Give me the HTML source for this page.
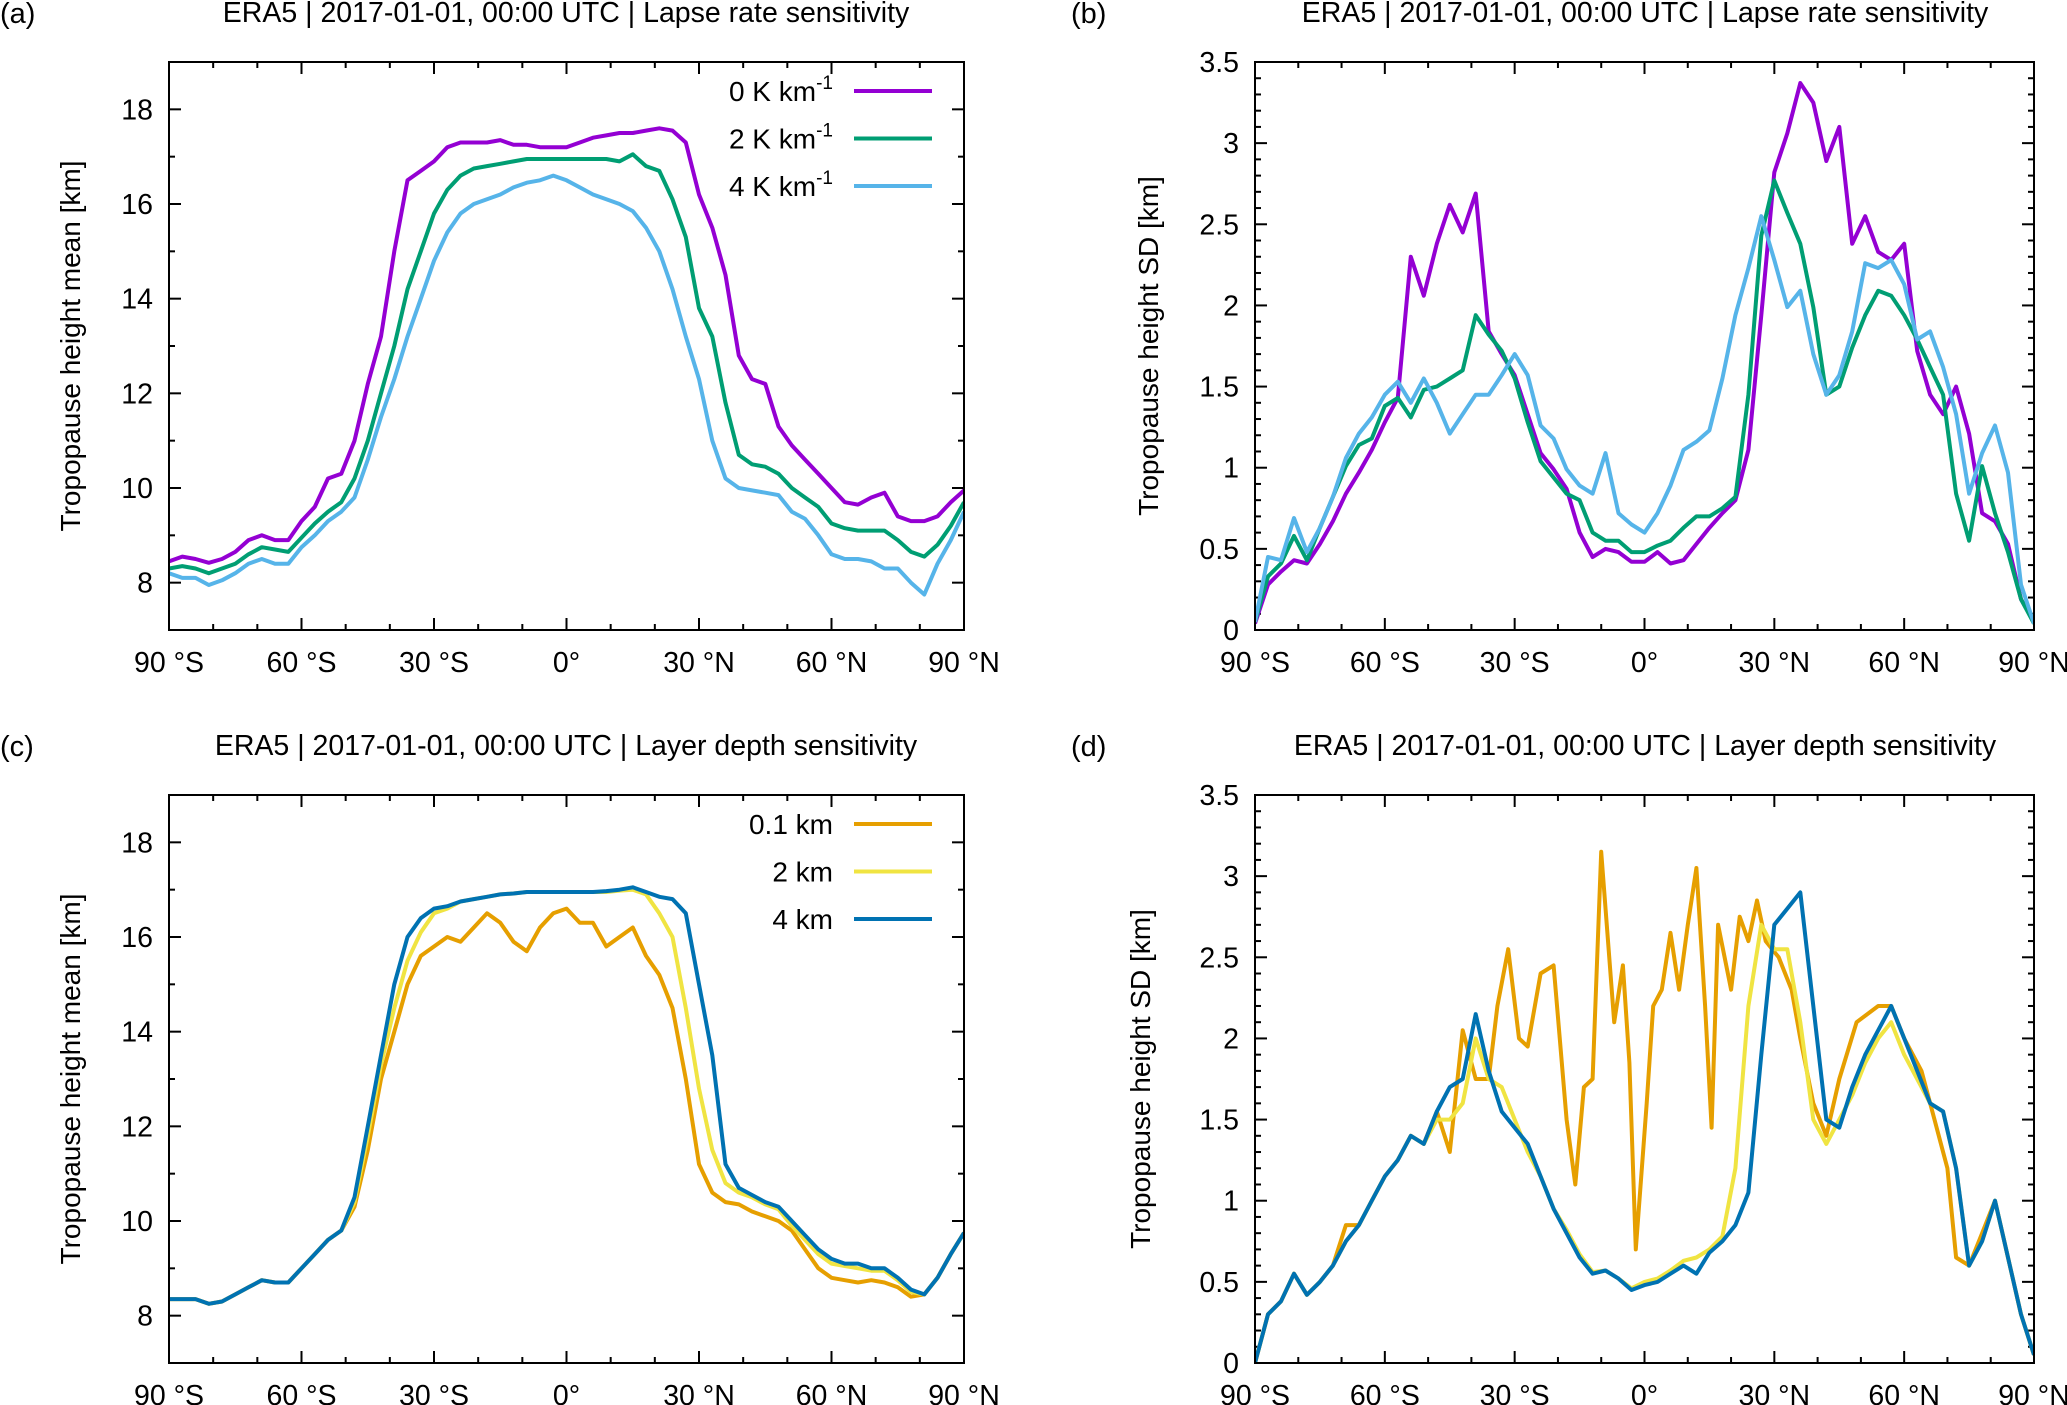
<!DOCTYPE html>
<html><head><meta charset="utf-8"><style>
body{margin:0;background:#fff}
svg{display:block;font-family:"Liberation Sans",sans-serif}
</style></head><body>
<svg id="fig" width="2067" height="1405" viewBox="0 0 2067 1405"></svg>
<script>
const latStep3 = [-90,-87,-84,-81,-78,-75,-72,-69,-66,-63,-60,-57,-54,-51,-48,-45,-42,-39,-36,-33,-30,-27,-24,-21,-18,-15,-12,-9,-6,-3,0,3,6,9,12,15,18,21,24,27,30,33,36,39,42,45,48,51,54,57,60,63,66,69,72,75,78,81,84,87,90];
// Panel (a) mean, lapse rate
const aMean0K = [8.45,8.55,8.5,8.42,8.5,8.65,8.9,9.0,8.9,8.9,9.3,9.6,10.2,10.3,11.0,12.2,13.2,15.0,16.5,16.7,16.9,17.2,17.3,17.3,17.3,17.35,17.25,17.25,17.2,17.2,17.2,17.3,17.4,17.45,17.5,17.5,17.55,17.6,17.55,17.3,16.2,15.5,14.5,12.8,12.3,12.2,11.3,10.9,10.6,10.3,10.0,9.7,9.65,9.8,9.9,9.4,9.3,9.3,9.4,9.7,9.95];
const aMean2K = [8.3,8.35,8.3,8.2,8.3,8.4,8.6,8.75,8.7,8.65,8.95,9.25,9.5,9.7,10.2,11.0,12.0,13.0,14.2,15.0,15.8,16.3,16.6,16.75,16.8,16.85,16.9,16.95,16.95,16.95,16.95,16.95,16.95,16.95,16.9,17.05,16.8,16.7,16.1,15.3,13.8,13.2,11.8,10.7,10.5,10.45,10.3,10.0,9.8,9.6,9.25,9.15,9.1,9.1,9.1,8.9,8.65,8.55,8.8,9.2,9.7];
const aMean4K = [8.2,8.1,8.1,7.95,8.05,8.2,8.4,8.5,8.4,8.4,8.75,9.0,9.3,9.5,9.8,10.6,11.5,12.3,13.2,14.0,14.8,15.4,15.8,16.0,16.1,16.2,16.35,16.45,16.5,16.6,16.5,16.35,16.2,16.1,16.0,15.85,15.5,15.0,14.2,13.2,12.3,11.0,10.2,10.0,9.95,9.9,9.85,9.5,9.35,9.0,8.6,8.5,8.5,8.45,8.3,8.3,8.0,7.75,8.4,8.9,9.5];
// Panel (b) SD, lapse rate
const bSd0K = [0.04,0.28,0.36,0.43,0.41,0.53,0.67,0.84,0.97,1.11,1.28,1.43,2.3,2.06,2.38,2.62,2.45,2.69,1.84,1.7,1.57,1.33,1.09,0.99,0.87,0.6,0.45,0.5,0.48,0.42,0.42,0.48,0.41,0.43,0.53,0.63,0.72,0.8,1.11,1.94,2.82,3.06,3.37,3.25,2.89,3.1,2.38,2.55,2.33,2.28,2.38,1.72,1.45,1.33,1.5,1.21,0.72,0.67,0.53,0.19,0.05];
const bSd2K = [0.05,0.33,0.41,0.58,0.43,0.63,0.82,1.01,1.14,1.18,1.38,1.43,1.31,1.48,1.5,1.55,1.6,1.94,1.82,1.72,1.55,1.28,1.04,0.94,0.84,0.8,0.6,0.55,0.55,0.48,0.48,0.52,0.55,0.63,0.7,0.7,0.75,0.82,1.45,2.43,2.77,2.57,2.38,1.99,1.45,1.5,1.74,1.94,2.09,2.06,1.94,1.79,1.62,1.45,0.84,0.55,1.01,0.72,0.48,0.19,0.04];
const bSd4K = [0.05,0.45,0.43,0.69,0.48,0.63,0.82,1.06,1.21,1.31,1.45,1.53,1.4,1.55,1.4,1.21,1.33,1.45,1.45,1.57,1.7,1.57,1.26,1.18,0.99,0.89,0.84,1.09,0.72,0.65,0.6,0.72,0.89,1.11,1.16,1.23,1.55,1.94,2.23,2.55,2.28,1.99,2.09,1.7,1.45,1.57,1.84,2.26,2.23,2.28,2.13,1.79,1.84,1.62,1.33,0.84,1.09,1.26,0.97,0.28,0.04];
// Panel (c) mean, layer depth
const cMean01 = [8.35,8.35,8.35,8.25,8.3,8.45,8.6,8.75,8.7,8.7,9.0,9.3,9.6,9.8,10.3,11.5,13.0,14.0,15.0,15.6,15.8,16.0,15.9,16.2,16.5,16.3,15.9,15.7,16.2,16.5,16.6,16.3,16.3,15.8,16.0,16.2,15.6,15.2,14.5,13.0,11.2,10.6,10.4,10.35,10.2,10.1,10.0,9.8,9.4,9.0,8.8,8.75,8.7,8.75,8.7,8.6,8.4,8.45,8.8,9.3,9.75];
const cMean2 = [8.35,8.35,8.35,8.25,8.3,8.45,8.6,8.75,8.7,8.7,9.0,9.3,9.6,9.8,10.4,11.8,13.3,14.5,15.5,16.1,16.5,16.6,16.75,16.8,16.85,16.9,16.92,16.95,16.95,16.95,16.95,16.95,16.95,16.95,16.98,17.0,16.9,16.5,16.0,14.5,12.8,11.5,10.8,10.6,10.5,10.35,10.25,9.9,9.6,9.3,9.1,9.05,9.0,8.95,8.95,8.75,8.5,8.45,8.8,9.3,9.75];
const cMean4 = [8.35,8.35,8.35,8.25,8.3,8.45,8.6,8.75,8.7,8.7,9.0,9.3,9.6,9.8,10.5,12.0,13.5,15.0,16.0,16.4,16.6,16.65,16.75,16.8,16.85,16.9,16.92,16.95,16.95,16.95,16.95,16.95,16.95,16.97,17.0,17.05,16.95,16.85,16.8,16.5,15.0,13.5,11.2,10.7,10.55,10.4,10.3,10.0,9.7,9.4,9.2,9.1,9.1,9.0,9.0,8.8,8.55,8.45,8.8,9.3,9.75];
// Panel (d) SD, layer depth
const dLat01 = [-90,-87,-84,-81,-78,-75,-72,-69,-66,-63,-60,-57,-54,-51,-48,-45,-42,-39,-36,-34,-31.5,-29,-27,-24,-21,-18,-16,-14,-12,-10,-7,-5,-3.5,-2,0.5,2,4,6,8,10,12,14,15.5,17,20,22,24,26,28,31,34,36,39,42,45,49,54,57,60,64,67,70,72,75,78,81,84,87,90];
const dSd01 = [0,0.3,0.38,0.55,0.42,0.5,0.6,0.85,0.85,1.0,1.15,1.25,1.4,1.35,1.55,1.3,2.05,1.75,1.75,2.2,2.55,2.0,1.95,2.4,2.45,1.5,1.1,1.7,1.75,3.15,2.1,2.45,1.85,0.7,1.6,2.2,2.3,2.65,2.3,2.7,3.05,2.2,1.45,2.7,2.3,2.75,2.6,2.85,2.6,2.5,2.3,2.0,1.6,1.4,1.75,2.1,2.2,2.2,2.0,1.8,1.5,1.2,0.65,0.6,0.8,1.0,0.65,0.3,0.05];
const dSd2 = [0,0.3,0.38,0.55,0.42,0.5,0.6,0.75,0.85,1.0,1.15,1.25,1.4,1.35,1.5,1.5,1.6,2.0,1.75,1.7,1.5,1.3,1.15,0.95,0.82,0.67,0.56,0.57,0.52,0.46,0.5,0.52,0.57,0.63,0.65,0.7,0.78,1.2,2.2,2.7,2.55,2.55,2.1,1.5,1.35,1.5,1.65,1.85,2.0,2.1,1.9,1.75,1.6,1.55,1.2,0.6,0.75,1.0,0.65,0.3,0.05];
const dSd4 = [0,0.3,0.38,0.55,0.42,0.5,0.6,0.75,0.85,1.0,1.15,1.25,1.4,1.35,1.55,1.7,1.75,2.15,1.8,1.55,1.45,1.35,1.15,0.95,0.8,0.65,0.55,0.57,0.52,0.45,0.48,0.5,0.55,0.6,0.55,0.68,0.75,0.85,1.05,1.9,2.7,2.8,2.9,2.2,1.5,1.45,1.7,1.9,2.05,2.2,2.0,1.8,1.6,1.55,1.2,0.6,0.75,1.0,0.65,0.3,0.05];
const xTickLabels = ["90 °S","60 °S","30 °S","0°","30 °N","60 °N","90 °N"];
const meanTicks = [8,10,12,14,16,18];
const sdTicks = [0,0.5,1,1.5,2,2.5,3,3.5];

const NS="http://www.w3.org/2000/svg";
const svg=document.getElementById('fig');
function el(tag,attrs,parent,text){const e=document.createElementNS(NS,tag);for(const k in attrs)e.setAttribute(k,attrs[k]);if(text!==undefined)e.textContent=text;(parent||svg).appendChild(e);return e;}

function panel(cfg){
  const g=el('g',{});
  
  
  const {L,R,T,B,ymin,ymax}=cfg;
  const xs=lat=>L+(lat+90)/180*(R-L);
  const ys=v=>B-(v-ymin)/(ymax-ymin)*(B-T);
  for(let lat=-90;lat<=90;lat+=10){
    const x=xs(lat), major=(lat%30===0);
    const len=major?12:6;
    el('line',{x1:x,y1:B,x2:x,y2:B-len,stroke:'#000','stroke-width':2},g);
    el('line',{x1:x,y1:T,x2:x,y2:T+len,stroke:'#000','stroke-width':2},g);
  }
  for(let v=ymin;v<=ymax+1e-9;v+=cfg.minor){
    const y=ys(v);
    const isMaj=cfg.ticks.some(t=>Math.abs(t-v)<1e-6);
    const len=isMaj?12:6;
    el('line',{x1:L,y1:y,x2:L+len,y2:y,stroke:'#000','stroke-width':2},g);
    el('line',{x1:R,y1:y,x2:R-len,y2:y,stroke:'#000','stroke-width':2},g);
  }
  cfg.ticks.forEach(t=>{
    const tl=el('text',{x:L-16,y:ys(t)+10,'text-anchor':'end','font-size':28.5},g,String(t));
    
    
  });
  xTickLabels.forEach((s,i)=>{
    const tl=el('text',{x:xs(-90+30*i),y:B+42,'text-anchor':'middle','font-size':28.5},g,s);
    
    
  });
  const clipId='clip'+cfg.name;
  const cp=el('clipPath',{id:clipId},g);
  el('rect',{x:L,y:T,width:R-L,height:B-T},cp);
  cfg.series.forEach(s=>{
    const pts=s.vals.map((v,i)=>xs(s.lats[i]).toFixed(1)+','+ys(v).toFixed(1)).join(' ');
    const p=el('polyline',{points:pts,fill:'none',stroke:s.color,'stroke-width':4,'stroke-linejoin':'round','clip-path':'url(#'+clipId+')'},g);
    
    
  });
  const fr=el('rect',{x:L,y:T,width:R-L,height:B-T,fill:'none',stroke:'#000','stroke-width':2},g);
  
  
  const yl=el('text',{x:0,y:0,'text-anchor':'middle','font-size':28,transform:`translate(${cfg.ylabX},${(T+B)/2}) rotate(-90)`},g,cfg.ylabel);
  
  
  const ti=el('text',{x:cfg.titleX,y:cfg.titleY,'text-anchor':'middle','font-size':28.5},g,cfg.title);
  
  
  const pl=el('text',{x:cfg.labX,y:cfg.titleY+1,'font-size':29},g,cfg.lab);
  
  
  if(cfg.legend){
    cfg.legend.forEach((e,i)=>{
      const y=cfg.legY+i*47.5;
      const t=el('text',{x:833,y:y+10,'text-anchor':'end','font-size':28},g);
      
      
      t.textContent=e.label;
      if(e.sup){el('tspan',{dy:-12,'font-size':19},t,e.sup);}
      const ln=el('line',{x1:854,y1:y,x2:932,y2:y,stroke:e.color,'stroke-width':4},g);
      
      
    });
  }
}
const P='#9400d3',G='#009e73',LB='#56b4e9',O='#e69f00',Y='#f0e442',B2='#0072b2';
const title1='ERA5 | 2017-01-01, 00:00 UTC | Lapse rate sensitivity';
const title2='ERA5 | 2017-01-01, 00:00 UTC | Layer depth sensitivity';
panel({name:'panel-a',L:169,R:964,T:62,B:630,ymin:7,ymax:19,minor:1,ticks:meanTicks,ylabel:'Tropopause height mean [km]',ylabX:80,title:title1,titleX:566,titleY:22,lab:'(a)',labX:0,
  series:[{id:'line-0K',lats:latStep3,vals:aMean0K,color:P},{id:'line-2K',lats:latStep3,vals:aMean2K,color:G},{id:'line-4K',lats:latStep3,vals:aMean4K,color:LB}],
  legY:91,legend:[{label:'0 K km',sup:'-1',color:P},{label:'2 K km',sup:'-1',color:G},{label:'4 K km',sup:'-1',color:LB}]});
panel({name:'panel-b',L:1255,R:2034,T:62,B:630,ymin:0,ymax:3.5,minor:0.1,ticks:sdTicks,ylabel:'Tropopause height SD [km]',ylabX:1158,title:title1,titleX:1645,titleY:22,lab:'(b)',labX:1071,
  series:[{id:'line-0K',lats:latStep3,vals:bSd0K,color:P},{id:'line-2K',lats:latStep3,vals:bSd2K,color:G},{id:'line-4K',lats:latStep3,vals:bSd4K,color:LB}]});
panel({name:'panel-c',L:169,R:964,T:795,B:1363,ymin:7,ymax:19,minor:1,ticks:meanTicks,ylabel:'Tropopause height mean [km]',ylabX:80,title:title2,titleX:566,titleY:755,lab:'(c)',labX:0,
  series:[{id:'line-0.1km',lats:latStep3,vals:cMean01,color:O},{id:'line-2km',lats:latStep3,vals:cMean2,color:Y},{id:'line-4km',lats:latStep3,vals:cMean4,color:B2}],
  legY:824,legend:[{label:'0.1 km',color:O},{label:'2 km',color:Y},{label:'4 km',color:B2}]});
panel({name:'panel-d',L:1255,R:2034,T:795,B:1363,ymin:0,ymax:3.5,minor:0.1,ticks:sdTicks,ylabel:'Tropopause height SD [km]',ylabX:1150,title:title2,titleX:1645,titleY:755,lab:'(d)',labX:1071,
  series:[{id:'line-0.1km',lats:dLat01,vals:dSd01,color:O},{id:'line-2km',lats:latStep3,vals:dSd2,color:Y},{id:'line-4km',lats:latStep3,vals:dSd4,color:B2}]});
</script>
</body></html>
